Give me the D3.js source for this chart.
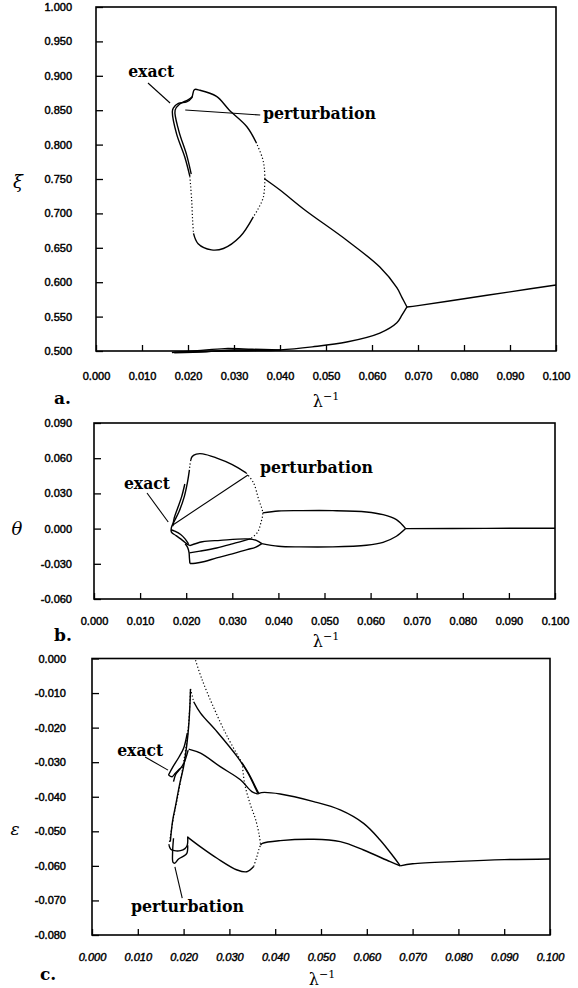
<!DOCTYPE html>
<html>
<head>
<meta charset="utf-8">
<script src="https://cdn.jsdelivr.net/npm/d3@7"></script>
<style>
  body { margin: 0; background: #fff; }
  .tick text { font-family: "Liberation Sans", Arial, sans-serif; font-size: 11px; fill: #000; stroke: #000; stroke-width: 0.45; }
  .tick line { stroke: #000; stroke-width: 1.3; }
  .note { font-family: "DejaVu Serif", serif; font-weight: bold; font-size: 16px; }
</style>
</head>
<body>
<div id="chart"></div>
<script>
// tick values
var xTicks = d3.range(11).map(i => i * 0.01);
var xiTicks = d3.range(11).map(i => 0.5 + i * 0.05);
var thetaTicks = d3.range(6).map(i => -0.06 + i * 0.03);
var epsTicks = d3.range(9).map(i => -0.08 + i * 0.01);

// panel a : xi against lambda^-1
var xiRight = [[0.100,0.596],[0.090,0.586],[0.080,0.576],[0.070,0.566],[0.0676,0.564]];
var xiUpper = [[0.0676,0.564],[0.0665,0.578],[0.0654,0.592],[0.0617,0.622],[0.0545,0.661],[0.0454,0.705],[0.0400,0.734],[0.0367,0.750]];
var xiLower = [[0.0676,0.564],[0.0665,0.552],[0.0654,0.541],[0.0617,0.526],[0.0545,0.513],[0.0470,0.506],[0.0400,0.5015],[0.0330,0.5003],[0.0250,0.4995],[0.0170,0.4980]];
var xiFloorA = [[0.0165,0.4978],[0.0220,0.5005],[0.0280,0.5035],[0.0340,0.5025],[0.0400,0.5015]];
var xiFloorB = [[0.0170,0.4975],[0.0240,0.4990],[0.0300,0.5015],[0.0360,0.5010]];
var xiLoopUpper = [[0.0349,0.802],[0.0328,0.826],[0.0290,0.850],[0.0262,0.870],[0.0226,0.879],[0.0214,0.880],[0.0208,0.868],[0.0197,0.862],[0.0179,0.860],[0.0168,0.853],[0.0166,0.848],[0.0175,0.816],[0.0193,0.782],[0.0204,0.754]];
var xiLoopUpperDots = [[0.0367,0.750],[0.0366,0.765],[0.0362,0.780],[0.0349,0.802]];
var xiLoopLowerDots = [[0.0367,0.750],[0.0364,0.724],[0.0352,0.706],[0.0342,0.695]];
var xiLoopLeftDots = [[0.0204,0.754],[0.0208,0.719],[0.0210,0.690],[0.0212,0.671]];
var xiLoopLower = [[0.0212,0.671],[0.0222,0.656],[0.0251,0.647],[0.0277,0.649],[0.0313,0.666],[0.0342,0.695]];
var xiExact = [[0.0210,0.870],[0.0200,0.865],[0.0182,0.859],[0.0172,0.850],[0.0180,0.820],[0.0197,0.785],[0.0207,0.757]];

// panel b : theta against lambda^-1
var thRight = [[0.100,0.0003],[0.085,0.0002],[0.0676,0.0000]];
var thUpper = [[0.0676,0.0000],[0.0656,0.0077],[0.0627,0.0119],[0.0591,0.0142],[0.0518,0.0153],[0.0446,0.0153],[0.0400,0.0150],[0.0366,0.0134]];
var thLower = [[0.0676,0.0000],[0.0656,-0.0065],[0.0627,-0.0117],[0.0591,-0.0142],[0.0518,-0.0156],[0.0446,-0.0156],[0.0400,-0.0150],[0.0364,-0.0128]];
var thLoopTop = [[0.0330,0.0475],[0.0300,0.0546],[0.0265,0.0603],[0.0236,0.0637],[0.0222,0.0635],[0.0213,0.0615],[0.0210,0.0585]];
var thLoopLeftDots = [[0.0210,0.0585],[0.0208,0.0540],[0.0207,0.0500]];
var thLoopLeft = [[0.0207,0.0500],[0.0203,0.0400],[0.0196,0.0275],[0.0185,0.0150],[0.0175,0.0070],[0.0168,0.0010],[0.0168,-0.0030],[0.0178,-0.0060],[0.0192,-0.0100],[0.0203,-0.0135],[0.0208,-0.0145]];
var thLoopRightDots = [[0.0330,0.0475],[0.0346,0.0390],[0.0357,0.0250],[0.0366,0.0134],[0.0362,0.0050],[0.0355,-0.0030],[0.0340,-0.0085]];
var thMiddle = [[0.0340,-0.0085],[0.0300,-0.0130],[0.0266,-0.0165],[0.0230,-0.0192],[0.0207,-0.0207]];
var thEllipseTop = [[0.0208,-0.0145],[0.0235,-0.0112],[0.0274,-0.0100],[0.0332,-0.0088],[0.0352,-0.0100],[0.0364,-0.0128]];
var thEllipseBottom = [[0.0364,-0.0128],[0.0350,-0.0160],[0.0332,-0.0179],[0.0300,-0.0215],[0.0266,-0.0250],[0.0240,-0.0280],[0.0220,-0.0295],[0.0208,-0.0298]];
var thEllipseLeft = [[0.0208,-0.0298],[0.0207,-0.0250],[0.0206,-0.0200],[0.0203,-0.0160],[0.0198,-0.0130]];
var thLens = [[0.0167,-0.0010],[0.0175,-0.0022],[0.0188,-0.0050],[0.0198,-0.0090],[0.0205,-0.0130]];
var thExact = [[0.0171,0.0020],[0.0174,0.0090],[0.0181,0.0170],[0.0190,0.0270],[0.0197,0.0380]];

// panel c : epsilon against lambda^-1
var epRight = [[0.100,-0.0580],[0.090,-0.0582],[0.080,-0.0587],[0.070,-0.0594],[0.0673,-0.0600]];
var epUpper = [[0.0673,-0.0600],[0.0658,-0.0573],[0.0629,-0.0525],[0.0593,-0.0477],[0.0542,-0.0438],[0.0484,-0.0414],[0.0411,-0.0392],[0.0370,-0.0388],[0.0362,-0.0392]];
var epLower = [[0.0673,-0.0600],[0.0651,-0.0588],[0.0593,-0.0554],[0.0542,-0.0530],[0.0484,-0.0523],[0.0411,-0.0527],[0.0372,-0.0535],[0.0368,-0.0540]];
var epMid = [[0.0211,-0.0262],[0.0237,-0.0274],[0.0280,-0.0313],[0.0324,-0.0351],[0.0349,-0.0385],[0.0362,-0.0392]];
var epTopDots = [[0.0226,-0.0005],[0.0240,-0.0060],[0.0265,-0.0140],[0.0295,-0.0225],[0.0328,-0.0303]];
var epTopTail = [[0.0328,-0.0303],[0.0345,-0.0340],[0.0357,-0.0372],[0.0364,-0.0390]];
var epPeakDots = [[0.0215,-0.0088],[0.0222,-0.0125]];
var epPeakLine = [[0.0222,-0.0125],[0.0237,-0.0158],[0.0273,-0.0212],[0.0317,-0.0284],[0.0340,-0.0330],[0.0355,-0.0370],[0.0362,-0.0390]];
var epRightDots = [[0.0328,-0.0303],[0.0333,-0.0360],[0.0345,-0.0420],[0.0357,-0.0465],[0.0365,-0.0510],[0.0368,-0.0540]];
var epBottomLoop = [[0.0208,-0.0516],[0.0237,-0.0545],[0.0273,-0.0578],[0.0317,-0.0612],[0.0338,-0.0617],[0.0353,-0.0602]];
var epBottomDots = [[0.0353,-0.0602],[0.0360,-0.0573],[0.0365,-0.0550],[0.0368,-0.0540]];
var epLeftRise = [[0.0171,-0.0530],[0.0176,-0.0470],[0.0182,-0.0429],[0.0192,-0.0360],[0.0200,-0.0313],[0.0207,-0.0250],[0.0211,-0.0197],[0.0214,-0.0130],[0.0215,-0.0090]];
var epLeftRiseDots = [[0.0168,-0.0540],[0.0178,-0.0460],[0.0190,-0.0380],[0.0200,-0.0300],[0.0208,-0.0230],[0.0213,-0.0150],[0.0215,-0.0088]];
var epExactLow = [[0.0168,-0.0540],[0.0172,-0.0552],[0.0180,-0.0556],[0.0193,-0.0556],[0.0203,-0.0550],[0.0208,-0.0540],[0.0209,-0.0516]];
var epPertLow = [[0.0178,-0.0520],[0.0176,-0.0560],[0.0177,-0.0590],[0.0181,-0.0592],[0.0189,-0.0580],[0.0200,-0.0572],[0.0207,-0.0564],[0.0209,-0.0540]];
var epHookA = [[0.0167,-0.0337],[0.0176,-0.0315],[0.0190,-0.0285],[0.0200,-0.0260],[0.0208,-0.0216]];
var epHookB = [[0.0178,-0.0356],[0.0183,-0.0335],[0.0192,-0.0320],[0.0200,-0.0305],[0.0210,-0.0265]];
var epHookLink = [[0.0167,-0.0337],[0.0175,-0.0342],[0.0182,-0.0332],[0.0192,-0.0318]];

var W = 578, H = 988;
var svg = d3.select("#chart").append("svg").attr("width", W).attr("height", H);
var fmt = v => d3.format(".3f")(v).replace("\u2212", "-");
var line = d3.line().curve(d3.curveCatmullRom.alpha(0.5));

function drawPanel(p) {
  var x = d3.scaleLinear().domain([0, 0.1]).range([p.left, p.right]);
  var y = d3.scaleLinear().domain(p.yDomain).range([p.bottom, p.top]);
  line.x(d => x(d[0])).y(d => y(d[1]));
  var g = svg.append("g");

  var ax = g.append("g")
    .attr("transform", "translate(0," + p.bottom + ")")
    .call(d3.axisBottom(x).tickValues(xTicks).tickFormat(fmt).tickSize(-6).tickSizeOuter(0).tickPadding(p.xPad));
  ax.select(".domain").remove();
  if (p.italicX) ax.selectAll("text").style("font-style", "italic");

  var ay = g.append("g")
    .attr("transform", "translate(" + p.left + ",0)")
    .call(d3.axisLeft(y).tickValues(p.yTicks).tickFormat(fmt).tickSize(-7).tickSizeOuter(0).tickPadding(p.yPad));
  ay.select(".domain").remove();

  g.append("rect")
    .attr("x", p.left).attr("y", p.top)
    .attr("width", p.right - p.left).attr("height", p.bottom - p.top)
    .attr("fill", "none").attr("stroke", "#000").attr("stroke-width", 1.6);

  p.series.forEach(function (s) {
    g.append("path")
      .attr("d", line(s.pts))
      .attr("fill", "none")
      .attr("stroke", "#000")
      .attr("stroke-width", s.dots ? 1.2 : 1.4)
      .attr("stroke-dasharray", s.dots ? "1.2,2.2" : null);
  });

  p.notes.forEach(function (n) {
    g.append("line")
      .attr("x1", x(n.from[0])).attr("y1", y(n.from[1]))
      .attr("x2", x(n.to[0])).attr("y2", y(n.to[1]))
      .attr("stroke", "#000").attr("stroke-width", 1.1);
    g.append("text").attr("class", "note")
      .attr("x", x(n.at[0])).attr("y", y(n.at[1]))
      .attr("textLength", n.text == "exact" ? 46 : 113)
      .attr("lengthAdjust", "spacingAndGlyphs")
      .text(n.text);
  });

  // y symbol
  g.append("text")
    .attr("x", p.symX).attr("y", p.symY)
    .attr("font-family", "DejaVu Serif, serif").attr("font-style", "italic")
    .attr("font-size", p.symSize).attr("text-anchor", "middle")
    .text(p.sym);

  // x title
  var t = g.append("text")
    .attr("x", p.titleX).attr("y", p.titleY)
    .attr("font-family", "DejaVu Serif, serif").attr("font-size", 16)
    .attr("text-anchor", "middle");
  t.append("tspan").text("\u03bb");
  t.append("tspan").attr("dy", -7).attr("font-size", 11).text("\u22121");

  g.append("text")
    .attr("x", p.letterX).attr("y", p.letterY)
    .attr("font-family", "DejaVu Serif, serif").attr("font-weight", "bold").attr("font-size", 17)
    .text(p.letter);
}

drawPanel({
  left: 96, right: 556, top: 7, bottom: 351, yDomain: [0.5, 1.0], yTicks: xiTicks,
  xPad: 21, yPad: 24,
  series: [
    {pts: xiRight}, {pts: xiUpper}, {pts: xiLower}, {pts: xiFloorA}, {pts: xiFloorB},
    {pts: xiLoopUpper}, {pts: xiLoopUpperDots, dots: true}, {pts: xiLoopLowerDots, dots: true},
    {pts: xiLoopLeftDots, dots: true}, {pts: xiLoopLower}, {pts: xiExact}
  ],
  notes: [
    {text: "exact", at: [0.0070, 0.8983], from: [0.0113, 0.8895], to: [0.0161, 0.8605]},
    {text: "perturbation", at: [0.0363, 0.8372], from: [0.0194, 0.8503], to: [0.0357, 0.8430]}
  ],
  sym: "\u03be", symX: 18, symY: 188, symSize: 18,
  titleX: 326, titleY: 407, letter: "a.", letterX: 54, letterY: 404
});

drawPanel({
  left: 94, right: 555, top: 423, bottom: 599, yDomain: [-0.06, 0.09], yTicks: thetaTicks,
  xPad: 18, yPad: 22,
  series: [
    {pts: thRight}, {pts: thUpper}, {pts: thLower}, {pts: thLoopTop},
    {pts: thLoopLeftDots, dots: true}, {pts: thLoopLeft}, {pts: thLoopRightDots, dots: true},
    {pts: thMiddle}, {pts: thEllipseTop}, {pts: thEllipseBottom}, {pts: thEllipseLeft},
    {pts: thLens}, {pts: thExact}
  ],
  notes: [
    {text: "exact", at: [0.0065, 0.0337], from: [0.0115, 0.0303], to: [0.0161, 0.0056]},
    {text: "perturbation", at: [0.0360, 0.0474], from: [0.0171, 0.0031], to: [0.0334, 0.0457]}
  ],
  sym: "\u03b8", symX: 17, symY: 535, symSize: 18,
  titleX: 326, titleY: 647, letter: "b.", letterX: 54, letterY: 641
});

drawPanel({
  left: 92, right: 550, top: 658.5, bottom: 935, yDomain: [-0.08, 0], yTicks: epsTicks,
  xPad: 18, yPad: 26, italicX: true,
  series: [
    {pts: epRight}, {pts: epUpper}, {pts: epLower}, {pts: epMid},
    {pts: epTopDots, dots: true}, {pts: epTopTail}, {pts: epPeakDots, dots: true}, {pts: epPeakLine},
    {pts: epRightDots, dots: true}, {pts: epBottomLoop}, {pts: epBottomDots, dots: true},
    {pts: epLeftRise}, {pts: epLeftRiseDots, dots: true}, {pts: epExactLow}, {pts: epPertLow},
    {pts: epHookA}, {pts: epHookB}, {pts: epHookLink}
  ],
  notes: [
    {text: "exact", at: [0.0055, -0.0282], from: [0.0116, -0.0285], to: [0.0166, -0.0323]},
    {text: "perturbation", at: [0.0085, -0.0733], from: [0.0181, -0.0603], to: [0.0197, -0.0693]}
  ],
  sym: "\u03b5", symX: 15, symY: 835, symSize: 17,
  titleX: 322, titleY: 985, letter: "c.", letterX: 40, letterY: 980
});
</script>
</body>
</html>
